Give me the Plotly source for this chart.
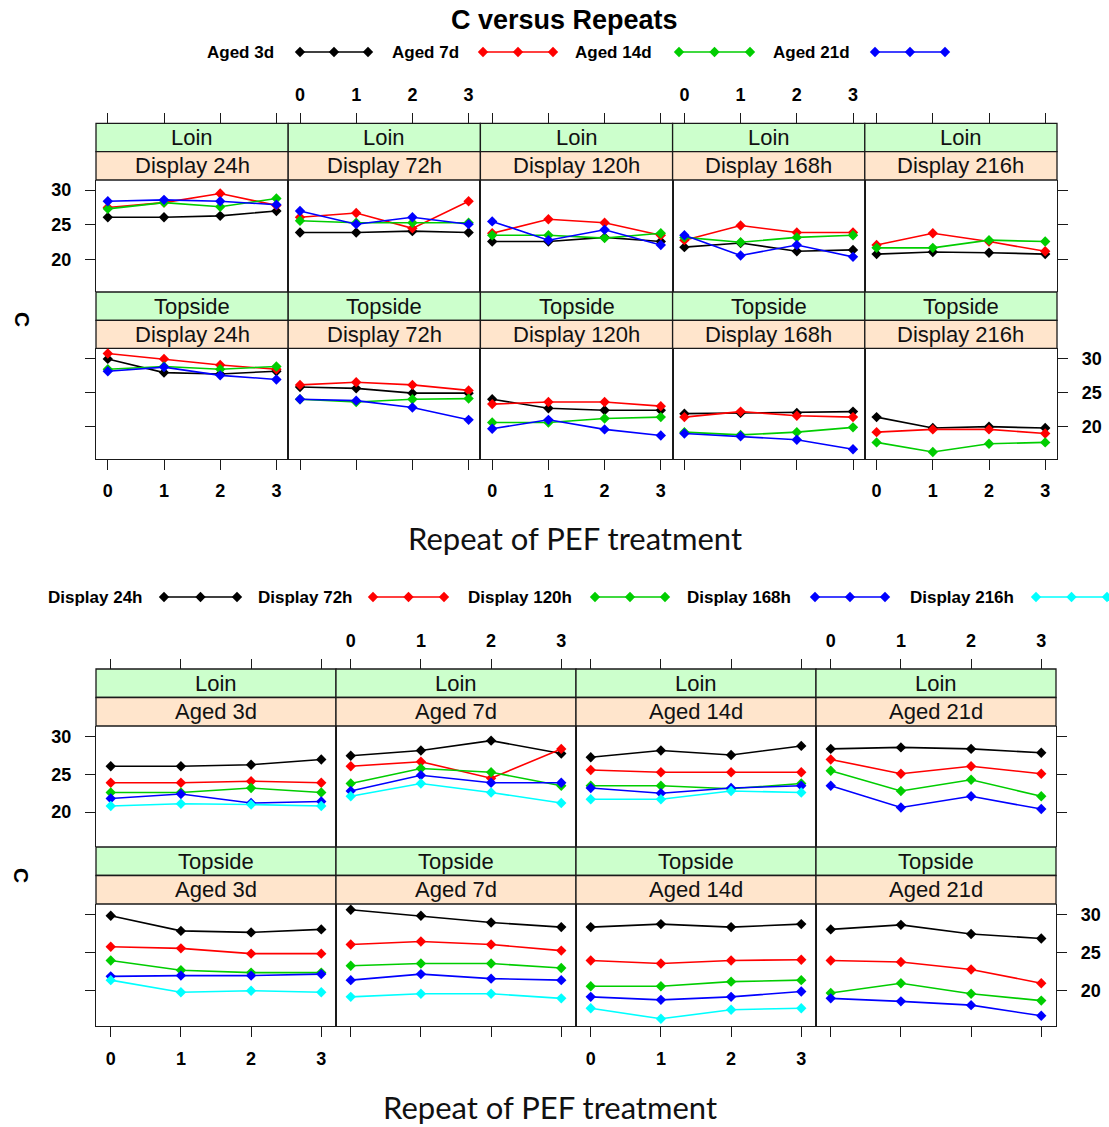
import plotly.graph_objects as go

W, H = 1109, 1127

# ---------------- data ----------------
repeats = [0, 1, 2, 3]
muscles = ["Loin", "Topside"]
aged_labels = ["Aged 3d", "Aged 7d", "Aged 14d", "Aged 21d"]
display_labels = ["Display 24h", "Display 72h", "Display 120h", "Display 168h", "Display 216h"]
series_colors = ["#000000", "#FF0000", "#00CD00", "#0000FF", "#00FFFF"]
y_ticks = [20, 25, 30]

# each list: one row per display time (24h, 72h, 120h, 168h, 216h), values at repeats 0..3
loin_aged3d = [
    [26.1, 26.1, 26.3, 27.0],
    [23.9, 23.9, 24.1, 23.9],
    [22.6, 22.6, 23.2, 22.6],
    [21.8, 22.4, 21.2, 21.4],
    [20.8, 21.1, 21.0, 20.8],
]
loin_aged7d = [
    [27.5, 28.2, 29.5, 27.8],
    [26.1, 26.7, 24.5, 28.4],
    [23.8, 25.8, 25.3, 23.5],
    [22.8, 24.9, 23.9, 23.9],
    [22.1, 23.8, 22.6, 21.2],
]
loin_aged14d = [
    [27.3, 28.2, 27.6, 28.8],
    [25.6, 25.3, 25.3, 25.3],
    [23.5, 23.5, 23.1, 23.8],
    [23.2, 22.5, 23.2, 23.5],
    [21.7, 21.7, 22.8, 22.6],
]
loin_aged21d = [
    [28.4, 28.6, 28.4, 27.9],
    [27.0, 25.1, 26.1, 25.1],
    [25.5, 22.8, 24.3, 22.1],
    [23.5, 20.6, 22.1, 20.4],
]
topside_aged3d = [
    [29.9, 27.9, 27.7, 28.1],
    [25.8, 25.6, 24.9, 24.9],
    [24.0, 22.7, 22.4, 22.4],
    [21.9, 22.0, 22.0, 22.2],
    [21.4, 19.8, 20.0, 19.8],
]
topside_aged7d = [
    [30.7, 29.9, 29.0, 28.4],
    [26.1, 26.5, 26.1, 25.3],
    [23.3, 23.6, 23.6, 23.0],
    [21.4, 22.2, 21.6, 21.4],
    [19.2, 19.6, 19.6, 19.0],
]
topside_aged14d = [
    [28.4, 28.8, 28.4, 28.8],
    [24.0, 23.6, 24.0, 24.1],
    [20.6, 20.6, 21.2, 21.4],
    [19.2, 18.8, 19.2, 19.9],
    [17.7, 16.3, 17.5, 17.7],
]
topside_aged21d = [
    [28.1, 28.7, 27.5, 26.9],
    [24.0, 23.8, 22.8, 21.0],
    [19.7, 21.0, 19.6, 18.7],
    [19.0, 18.6, 18.1, 16.7],
]

data = {
    ("Loin", 0): loin_aged3d, ("Loin", 1): loin_aged7d,
    ("Loin", 2): loin_aged14d, ("Loin", 3): loin_aged21d,
    ("Topside", 0): topside_aged3d, ("Topside", 1): topside_aged7d,
    ("Topside", 2): topside_aged14d, ("Topside", 3): topside_aged21d,
}

# ---------------- layout helpers ----------------
def fx(px):
    return px / W

def fy(py):
    return 1 - py / H

TICK_FONT = dict(family="Liberation Sans, Arial", size=18, color="black", weight="bold")
STRIP_FONT = dict(family="Liberation Sans, Arial", size=22, color="#111111")
LINE_COL = "#1a1a1a"
GREEN_STRIP = "#CCFFCC"
PEACH_STRIP = "#FFE5CC"
XR = [-0.21, 3.21]
YR = [15.35, 31.45]

fig = go.Figure()
layout = {}
shapes = []
annotations = []
counter = [0]


def add_panel(col_edges, c, strip_top, strip_mid, ptop, pbot, is_top_row, top_lab, bot_lab,
              ylab_left, ylab_right, line1, line2, series):
    counter[0] += 1
    n = counter[0]
    xname = "xaxis" if n == 1 else f"xaxis{n}"
    yname = "yaxis" if n == 1 else f"yaxis{n}"
    xref = "x" if n == 1 else f"x{n}"
    yref = "y" if n == 1 else f"y{n}"
    x0, x1 = col_edges[c], col_edges[c + 1]
    ncol = len(col_edges) - 1
    xa = dict(domain=[fx(x0), fx(x1)], range=XR, tickvals=repeats, showgrid=False, zeroline=False,
              ticks="outside", ticklen=10, tickwidth=1.2, tickcolor=LINE_COL, tickfont=TICK_FONT,
              fixedrange=True)
    if is_top_row:
        xa.update(anchor="free", position=fy(strip_top), side="top", showline=False,
                  showticklabels=(c in top_lab), ticklabelstandoff=5)
    else:
        xa.update(anchor=yref, side="bottom", showline=True, linecolor=LINE_COL, linewidth=1.3,
                  showticklabels=(c in bot_lab), ticklabelstandoff=6)
    ya = dict(domain=[fy(pbot), fy(ptop)], range=YR, tickvals=y_ticks, showgrid=False, zeroline=False,
              showline=True, mirror=True, linecolor=LINE_COL, linewidth=1.3, anchor=xref,
              tickfont=TICK_FONT, ticklen=10, tickwidth=1.2, tickcolor=LINE_COL, fixedrange=True)
    if c == 0:
        ya.update(side="left", ticks="outside", showticklabels=ylab_left, ticklabelstandoff=10)
    elif c == ncol - 1:
        ya.update(side="right", ticks="outside", showticklabels=ylab_right, ticklabelstandoff=10)
    else:
        ya.update(ticks="", showticklabels=False)
    layout[xname] = xa
    layout[yname] = ya

    # strips
    for (ya0, ya1, fill, txt) in [(strip_top, strip_mid, GREEN_STRIP, line1),
                                  (strip_mid, ptop, PEACH_STRIP, line2)]:
        shapes.append(dict(type="rect", xref="paper", yref="paper", x0=fx(x0), x1=fx(x1),
                           y0=fy(ya1), y1=fy(ya0), fillcolor=fill,
                           line=dict(color=LINE_COL, width=1.3), layer="below"))
        annotations.append(dict(xref="paper", yref="paper", x=fx((x0 + x1) / 2), y=fy((ya0 + ya1) / 2),
                                text=txt, showarrow=False, font=STRIP_FONT,
                                xanchor="center", yanchor="middle"))
    for vals, color in series:
        fig.add_trace(go.Scatter(x=repeats, y=vals, xaxis=xref, yaxis=yref, mode="lines+markers",
                                 line=dict(color=color, width=1.6),
                                 marker=dict(symbol="diamond", size=8, color=color),
                                 showlegend=False, hoverinfo="x+y"))


# ---------------- top chart: panels by display ----------------
top_cols = [96, 288.2, 480.4, 672.6, 864.8, 1057]
top_rows = [  # strip_top, strip_mid, panel_top, panel_bottom
    (123.3, 151.7, 180.0, 292.0),
    (292.0, 320.3, 348.3, 458.5),
]
for r, m in enumerate(muscles):
    st, sm, pt, pb = top_rows[r]
    for c, dlab in enumerate(display_labels):
        series = []
        for a in range(len(aged_labels)):
            rows = data[(m, a)]
            if c < len(rows):
                series.append((rows[c], series_colors[a]))
        add_panel(top_cols, c, st, sm, pt, pb, r == 0, {1, 3}, {0, 2, 4},
                  r == 0, r == 1, m, dlab, series)

# ---------------- bottom chart: panels by ageing ----------------
bot_cols = [96, 336, 576, 816, 1056]
bot_rows = [
    (669.0, 697.5, 726.0, 847.0),
    (847.0, 875.5, 904.0, 1026.0),
]
for r, m in enumerate(muscles):
    st, sm, pt, pb = bot_rows[r]
    for c, alab in enumerate(aged_labels):
        rows = data[(m, c)]
        series = [(rows[d], series_colors[d]) for d in range(len(rows))]
        add_panel(bot_cols, c, st, sm, pt, pb, r == 0, {1, 3}, {0, 2},
                  r == 0, r == 1, m, alab, series)

# ---------------- legend keys (drawn on a hidden full-page pixel axis) ----------------
counter[0] += 1
nk = counter[0]
layout[f"xaxis{nk}"] = dict(domain=[0, 1], range=[0, W], visible=False, fixedrange=True)
layout[f"yaxis{nk}"] = dict(domain=[0, 1], range=[H, 0], visible=False, fixedrange=True, anchor=f"x{nk}")

LEG_FONT = dict(family="Liberation Sans, Arial", size=17, color="black", weight="bold")

top_key_y = 52
top_key_text_right = [276, 461, 654, 852]
top_key_line = [(300, 368), (483, 553), (679, 750), (875, 945)]
bot_key_y = 597
bot_key_text_right = [145, 355, 574, 793, 1016]
bot_key_line = [(164, 237), (373, 444), (595, 665), (815, 885), (1036, 1107)]

for labels, trs, lines, ky in [(aged_labels, top_key_text_right, top_key_line, top_key_y),
                               (display_labels, bot_key_text_right, bot_key_line, bot_key_y)]:
    for i, lab in enumerate(labels):
        a, b = lines[i]
        fig.add_trace(go.Scatter(x=[a, (a + b) / 2, b], y=[ky] * 3, xaxis=f"x{nk}", yaxis=f"y{nk}",
                                 mode="lines+markers", line=dict(color=series_colors[i], width=1.6),
                                 marker=dict(symbol="diamond", size=8, color=series_colors[i]),
                                 showlegend=False, hoverinfo="skip"))
        annotations.append(dict(xref="paper", yref="paper", x=fx(trs[i]), y=fy(ky), text=lab,
                                showarrow=False, font=LEG_FONT, xanchor="right", yanchor="middle"))

# ---------------- titles ----------------
annotations.append(dict(xref="paper", yref="paper", x=fx(564), y=fy(20), text="C versus Repeats",
                        showarrow=False, xanchor="center", yanchor="middle",
                        font=dict(family="Liberation Sans, Arial", size=27, color="black", weight="bold")))
XT_FONT = dict(family="Lato, Open Sans, sans-serif", size=31, color="#111111")
annotations.append(dict(xref="paper", yref="paper", x=fx(575), y=fy(538), text="Repeat of PEF treatment",
                        showarrow=False, xanchor="center", yanchor="middle", font=XT_FONT))
annotations.append(dict(xref="paper", yref="paper", x=fx(550), y=fy(1107), text="Repeat of PEF treatment",
                        showarrow=False, xanchor="center", yanchor="middle", font=XT_FONT))
YT_FONT = dict(family="Liberation Sans, Arial", size=21, color="black", weight="bold")
for yy in (319, 875):
    annotations.append(dict(xref="paper", yref="paper", x=fx(22), y=fy(yy), text="C", textangle=90,
                            showarrow=False, xanchor="center", yanchor="middle", font=YT_FONT))

fig.update_layout(
    width=W, height=H, autosize=False,
    margin=dict(l=0, r=0, t=0, b=0, pad=0),
    paper_bgcolor="white", plot_bgcolor="rgba(0,0,0,0)",
    showlegend=False, shapes=shapes, annotations=annotations,
    **layout,
)

fig.write_html("out.html")
